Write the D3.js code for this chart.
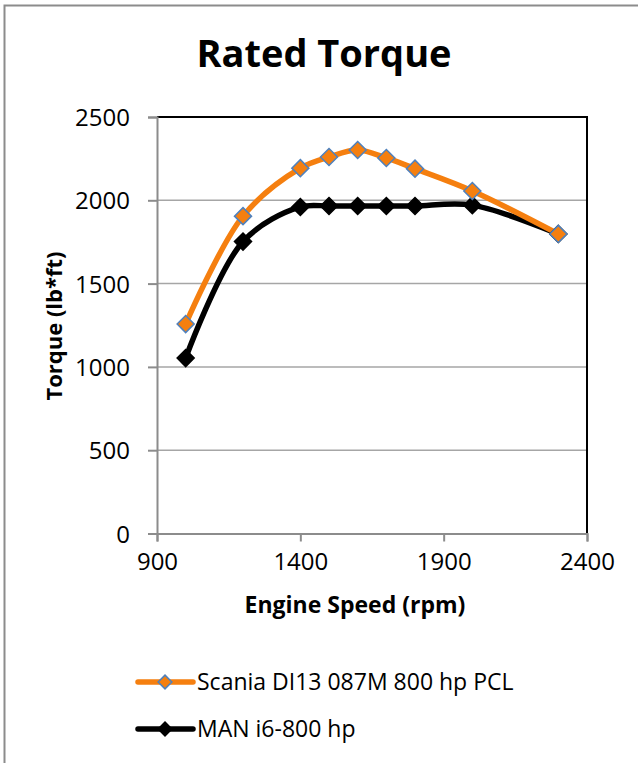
<!DOCTYPE html>
<html>
<head>
<meta charset="utf-8">
<script src="https://cdn.jsdelivr.net/npm/d3@7"></script>
<style>
  body { margin: 0; background: #fff; }
  text { font-family: "Open Sans", sans-serif; }
</style>
</head>
<body>
<div id="chart"></div>
<script>
var speeds = [1000, 1200, 1400, 1500, 1600, 1700, 1800, 2000, 2300];
var scania = [1257, 1905, 2193, 2260, 2302, 2254, 2190, 2056, 1798];
var man = [1053, 1752, 1960, 1966, 1966, 1966, 1966, 1971, 1798];
var seriesNames = ["Scania DI13 087M 800 hp PCL", "MAN i6-800 hp"];
var xTicks = [900, 1400, 1900, 2400];
var yTicks = [0, 500, 1000, 1500, 2000, 2500];

var width = 638, height = 763;
var svg = d3.select("#chart").append("svg")
    .attr("width", width)
    .attr("height", height);

// chart border
svg.append("rect")
    .attr("x", 4.5).attr("y", 5.5)
    .attr("width", 700).attr("height", 800)
    .attr("fill", "none")
    .attr("stroke", "#8c8c8c")
    .attr("stroke-width", 2);

var x = d3.scaleLinear().domain([900, 2400]).range([157, 587]);
var y = d3.scaleLinear().domain([0, 2500]).range([533.5, 117]);

// gridlines
svg.selectAll(".grid")
    .data(yTicks.slice(1, -1))
    .enter().append("line")
    .attr("class", "grid")
    .attr("x1", x(900)).attr("x2", x(2400))
    .attr("y1", function (d) { return y(d); })
    .attr("y2", function (d) { return y(d); })
    .attr("stroke", "#a6a6a6")
    .attr("stroke-width", 1.5);

// top and right plot border
svg.append("path")
    .attr("d", "M" + x(900) + "," + y(2500) + "H" + x(2400) + "V" + y(0))
    .attr("fill", "none")
    .attr("stroke", "#000")
    .attr("stroke-width", 2);

// axes
var yAxis = svg.append("g")
    .attr("transform", "translate(" + x(900) + ",0)")
    .call(d3.axisLeft(y).tickValues(yTicks).tickSize(9).tickPadding(18).tickFormat(d3.format("d")));
var xAxis = svg.append("g")
    .attr("transform", "translate(0," + y(0) + ")")
    .call(d3.axisBottom(x).tickValues(xTicks).tickSize(8).tickPadding(28).tickFormat(d3.format("d")));

[yAxis, xAxis].forEach(function (g) {
    g.select(".domain").attr("stroke", "#8c8c8c").attr("stroke-width", 2);
    g.selectAll(".tick line").attr("stroke", "#8c8c8c").attr("stroke-width", 2);
    g.selectAll(".tick text")
        .style("font-family", "Open Sans")
        .style("font-size", "24px")
        .attr("fill", "#000");
});
xAxis.selectAll(".tick text").attr("dy", "0");
yAxis.selectAll(".tick text").attr("dy", "0.36em");

// titles
svg.append("text")
    .attr("x", 324).attr("y", 67)
    .attr("text-anchor", "middle")
    .style("font-size", "38px")
    .style("font-weight", "bold")
    .text("Rated Torque");

svg.append("text")
    .attr("x", 355).attr("y", 613)
    .attr("text-anchor", "middle")
    .style("font-size", "23px")
    .style("font-weight", "bold")
    .text("Engine Speed (rpm)");

svg.append("text")
    .attr("transform", "translate(62,326) rotate(-90)")
    .attr("text-anchor", "middle")
    .style("font-size", "22px")
    .style("font-weight", "bold")
    .text("Torque (lb*ft)");

// series
var line = d3.line()
    .x(function (d) { return x(d[0]); })
    .y(function (d) { return y(d[1]); })
    .curve(d3.curveCatmullRom.alpha(0.5));

var series = [
    { name: seriesNames[0], values: d3.zip(speeds, scania), color: "#f57f0f", fill: "#f57f0f", edge: "#4f81bd" },
    { name: seriesNames[1], values: d3.zip(speeds, man), color: "#000", fill: "#000", edge: "#000" }
];

var diamond = d3.symbol().type(d3.symbolDiamond2).size(185);

series.slice().reverse().forEach(function (s) {
    svg.append("path")
        .datum(s.values)
        .attr("d", line)
        .attr("fill", "none")
        .attr("stroke", s.color)
        .attr("stroke-width", 5.5)
        .attr("stroke-linejoin", "round");
});

series.slice().reverse().forEach(function (s) {
    svg.selectAll(null)
        .data(s.values)
        .enter().append("path")
        .attr("transform", function (d) { return "translate(" + x(d[0]) + "," + y(d[1]) + ")"; })
        .attr("d", diamond)
        .attr("fill", s.fill)
        .attr("stroke", s.edge)
        .attr("stroke-width", 1.5);
});

// legend
var legend = svg.selectAll(".legend")
    .data(series)
    .enter().append("g")
    .attr("class", "legend")
    .attr("transform", function (d, i) { return "translate(0," + (682 + i * 47) + ")"; });

legend.append("line")
    .attr("x1", 138).attr("x2", 193)
    .attr("stroke", function (d) { return d.color; })
    .attr("stroke-width", 5.5)
    .attr("stroke-linecap", "round");

legend.append("path")
    .attr("transform", "translate(165,0)")
    .attr("d", d3.symbol().type(d3.symbolDiamond2).size(120))
    .attr("fill", function (d) { return d.fill; })
    .attr("stroke", function (d) { return d.edge; })
    .attr("stroke-width", 1.5);

legend.append("text")
    .attr("x", 197).attr("y", 0)
    .attr("dy", "0.35em")
    .style("font-size", "23px")
    .text(function (d) { return d.name; });
</script>
</body>
</html>
